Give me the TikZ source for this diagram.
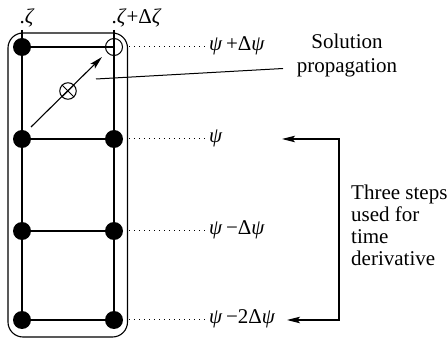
\documentclass[tikz,border=0pt]{standalone}
\usepackage{fontspec}
\setmainfont{Liberation Serif}
\newfontfamily\tms{Liberation Serif}
\usepackage{tikz}
\usetikzlibrary{arrows.meta}
\tikzset{
  >={Stealth[length=13pt,width=6.5pt,inset=2.5pt]},
  gridline/.style={line width=1.2pt},
  fulldot/.style={circle,fill=black,minimum size=18pt,inner sep=0pt},
  opendot/.style={circle,draw,line width=1pt,minimum size=17pt,inner sep=0pt},
  lvl/.style={font=\tms\fontsize{21}{22}\selectfont,inner sep=0pt},
  leader/.style={line width=1pt,dash pattern=on 1.4pt off 3.6pt},
  note/.style={font=\tms\fontsize{21}{24}\selectfont,inner sep=0pt},
}
\begin{document}
\begin{tikzpicture}[x=1pt,y=1pt]
  \useasboundingbox (0,0) rectangle (448,-339);
  % frame round the stencil
  \draw[line width=1.1pt,rounded corners=15pt] (8,-33) rectangle (127.5,-337);
  \foreach \r/\y in {a/-47,b/-139,c/-231,d/-320}{
    \coordinate (L\r) at (22,\y);
    \coordinate (R\r) at (114,\y);
  }
  \draw[gridline] (22,-30) -- (Ld) (114,-30) -- (Rd);
  \foreach \r in {a,b,c,d}
    {\draw[gridline] (L\r) -- (R\r);}
  \foreach \r in {a,b,c,d}
    {\node[fulldot] (nL\r) at (L\r) {};}
  \foreach \r in {b,c,d}
    {\node[fulldot] (nR\r) at (R\r) {};}
  \node[opendot] (nRa) at (Ra) {};
  % axis labels
  \node[lvl,anchor=base west] (zeta) at (19.5,-24) {.\textit{ζ}};
  \node[lvl,anchor=base west] (zetad) at (111.5,-24) {.\textit{ζ}+Δ\textit{ζ}};
  % levels
  \node[lvl,anchor=west] (psia) at (209,-46) {\textit{ψ}\,+Δ\textit{ψ}};
  \node[lvl,anchor=west] (psib) at (209,-138) {\textit{ψ}};
  \node[lvl,anchor=west] (psic) at (209,-230) {\textit{ψ}\,−Δ\textit{ψ}};
  \node[lvl,anchor=west] (psid) at (209,-319) {\textit{ψ}\,−2Δ\textit{ψ}};
  \foreach \r in {a,b,c,d}
    {\draw[leader] (R\r) ++(15,0) -- (205,0 |- R\r);}
  % propagation
  \coordinate (pfoot) at (31,-127);
  \coordinate (phead) at (102,-57);
  \draw[->,line width=1.1pt] (pfoot) -- (phead);
  \node[circle,draw,line width=1pt,minimum size=16.5pt,inner sep=0pt] (cross) at (68,-91) {};
  \draw[line width=1pt] (cross.north west) -- (cross.south east)
    (cross.north east) -- (cross.south west);
  \node[note,align=center] (sol) at (347,-55) {Solution\\propagation};
  \coordinate (sfoot) at (96,-79);
  \coordinate (send) at (283,-68.5);
  \draw[line width=1pt] (sfoot) -- (send);
  % three steps
  \coordinate (tA) at (282,-139);
  \coordinate (tB) at (287,-320);
  \coordinate (cA) at (339,-139);
  \coordinate (cB) at (339,-320);
  \draw[<->,line width=1.1pt] (tA) -- (cA) -- (cB) -- (tB);
  \node[lvl,align=left,anchor=north west] (steps) at (351,-185)
    {Three steps\\used for\\time\\derivative};
\end{tikzpicture}
\end{document}
